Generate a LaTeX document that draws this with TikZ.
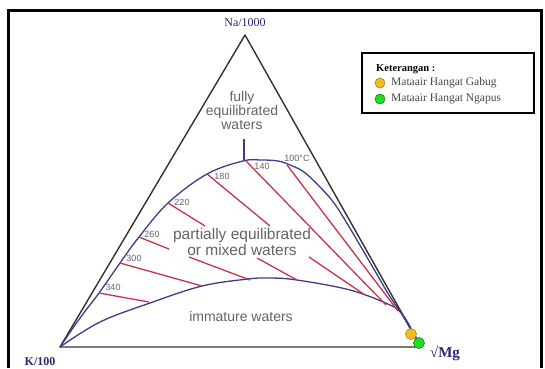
\documentclass[tikz,border=0pt]{standalone}
\usepackage{fontspec}
\setmainfont{Liberation Serif}
\newfontfamily\arialfont{Liberation Sans}

\definecolor{navy}{RGB}{40,40,120}
\definecolor{curveblue}{RGB}{60,60,140}
\definecolor{isored}{RGB}{205,50,70}
\definecolor{edgegray}{RGB}{50,50,50}
\definecolor{txtgray}{RGB}{100,100,100}
\definecolor{legtext}{RGB}{70,70,70}
\definecolor{gabugorange}{RGB}{245,185,35}
\definecolor{ngapusgreen}{RGB}{35,220,35}

\tikzset{
  edge/.style={line width=1.4pt, color=edgegray, line join=round},
  zone/.style={line width=1.3pt, color=curveblue},
  iso/.style={line width=1.3pt, color=isored},
  zonetext/.style={text=txtgray, align=center, inner sep=0pt},
  isolabel/.style={text=txtgray, font=\arialfont\fontsize{9}{9}\selectfont, inner sep=0pt},
  corner/.style={text=navy, inner sep=0pt},
  legitem/.style={anchor=west, inner sep=0pt, text=legtext, font=\fontsize{11.5}{11.5}\selectfont},
}

\begin{document}
\begin{tikzpicture}[x=1pt,y=-1pt]
\useasboundingbox (0,0) rectangle (545,368);
%
\draw[line width=3pt] (8,368) -- (8,10) -- (541,10) -- (541,368);
%
\coordinate (K) at (60,347);
\coordinate (Mg) at (421,347);
\coordinate (Na) at (245,35);
\draw[edge] (K) -- (Mg) -- (Na) -- cycle;
\node[corner, font=\fontsize{12}{12}\selectfont] (nalabel) at (245,23) {Na/1000};
\node[corner, font=\bfseries\fontsize{12}{12}\selectfont] (klabel) at (40,362) {K/100};
\node[corner, font=\bfseries\fontsize{15}{15}\selectfont] (mglabel) at (445,353) {√Mg};
%
\draw[zone] plot[smooth, tension=.6] coordinates {(60,347) (80,318) (99,293) (120,263) (139,237) (168,203) (207,174) (243,161) (261,160) (278,161) (290,165) (304,172) (320,187) (334,203) (348,225) (361,247) (375,271) (389,295) (403,316) (412,332) (421,347)};
\draw[zone] plot[smooth, tension=.6] coordinates {(60,347) (100,322) (150,303) (202,286) (248,279) (270,278) (297,280) (350,290) (390,305) (402,314) (412,330) (421,347)};
\draw[zone] (244,139) -- (244,161);
%
\draw[iso] (287,165) -- (398,311);
\draw[iso] (246,161) -- (386,305);
\draw[iso] (207,174) -- (270,226);
\draw[iso] (309,257) -- (365,295);
\draw[iso] (168,203) -- (205,226);
\draw[iso] (257,258) -- (297,280);
\draw[iso] (139,237) -- (169,249);
\draw[iso] (189,257) -- (250,280);
\draw[iso] (120,263) -- (202,286);
\draw[iso] (99,293) -- (149,302);
%
\node[isolabel] (t100) at (297,158) {100°C};
\node[isolabel] (t140) at (262,166) {140};
\node[isolabel] (t180) at (222,176) {180};
\node[isolabel] (t220) at (182,202) {220};
\node[isolabel] (t260) at (152,234) {260};
\node[isolabel] (t300) at (134,258) {300};
\node[isolabel] (t340) at (113,287) {340};
%
\node[zonetext, font=\arialfont\fontsize{14}{14}\selectfont] (fully) at (242,110) {fully\\equilibrated\\waters};
\node[zonetext, font=\arialfont\fontsize{15.5}{15.5}\selectfont] (partial) at (242,242) {partially equilibrated\\or mixed waters};
\node[zonetext, font=\arialfont\fontsize{14}{14}\selectfont] (immature) at (241,316) {immature waters};
%
\filldraw[fill=gabugorange, draw=gabugorange!70!black, line width=.6pt] (411,334) circle[radius=5.5pt];
\filldraw[fill=ngapusgreen, draw=ngapusgreen!60!black, line width=.6pt] (419,343) circle[radius=5.5pt];
%
\draw[line width=1.3pt] (362,53) rectangle (534,113);
\node[anchor=west, inner sep=0pt, font=\bfseries\fontsize{10.5}{10.5}\selectfont] (legtitle) at (376,69) {Keterangan :};
\filldraw[fill=gabugorange, draw=gabugorange!70!black, line width=.6pt] (380,83) circle[radius=5pt];
\node[legitem] (gabug) at (391,83) {Mataair Hangat Gabug};
\filldraw[fill=ngapusgreen, draw=ngapusgreen!60!black, line width=.6pt] (380,99) circle[radius=5pt];
\node[legitem] (ngapus) at (391,99) {Mataair Hangat Ngapus};
\end{tikzpicture}
\end{document}
